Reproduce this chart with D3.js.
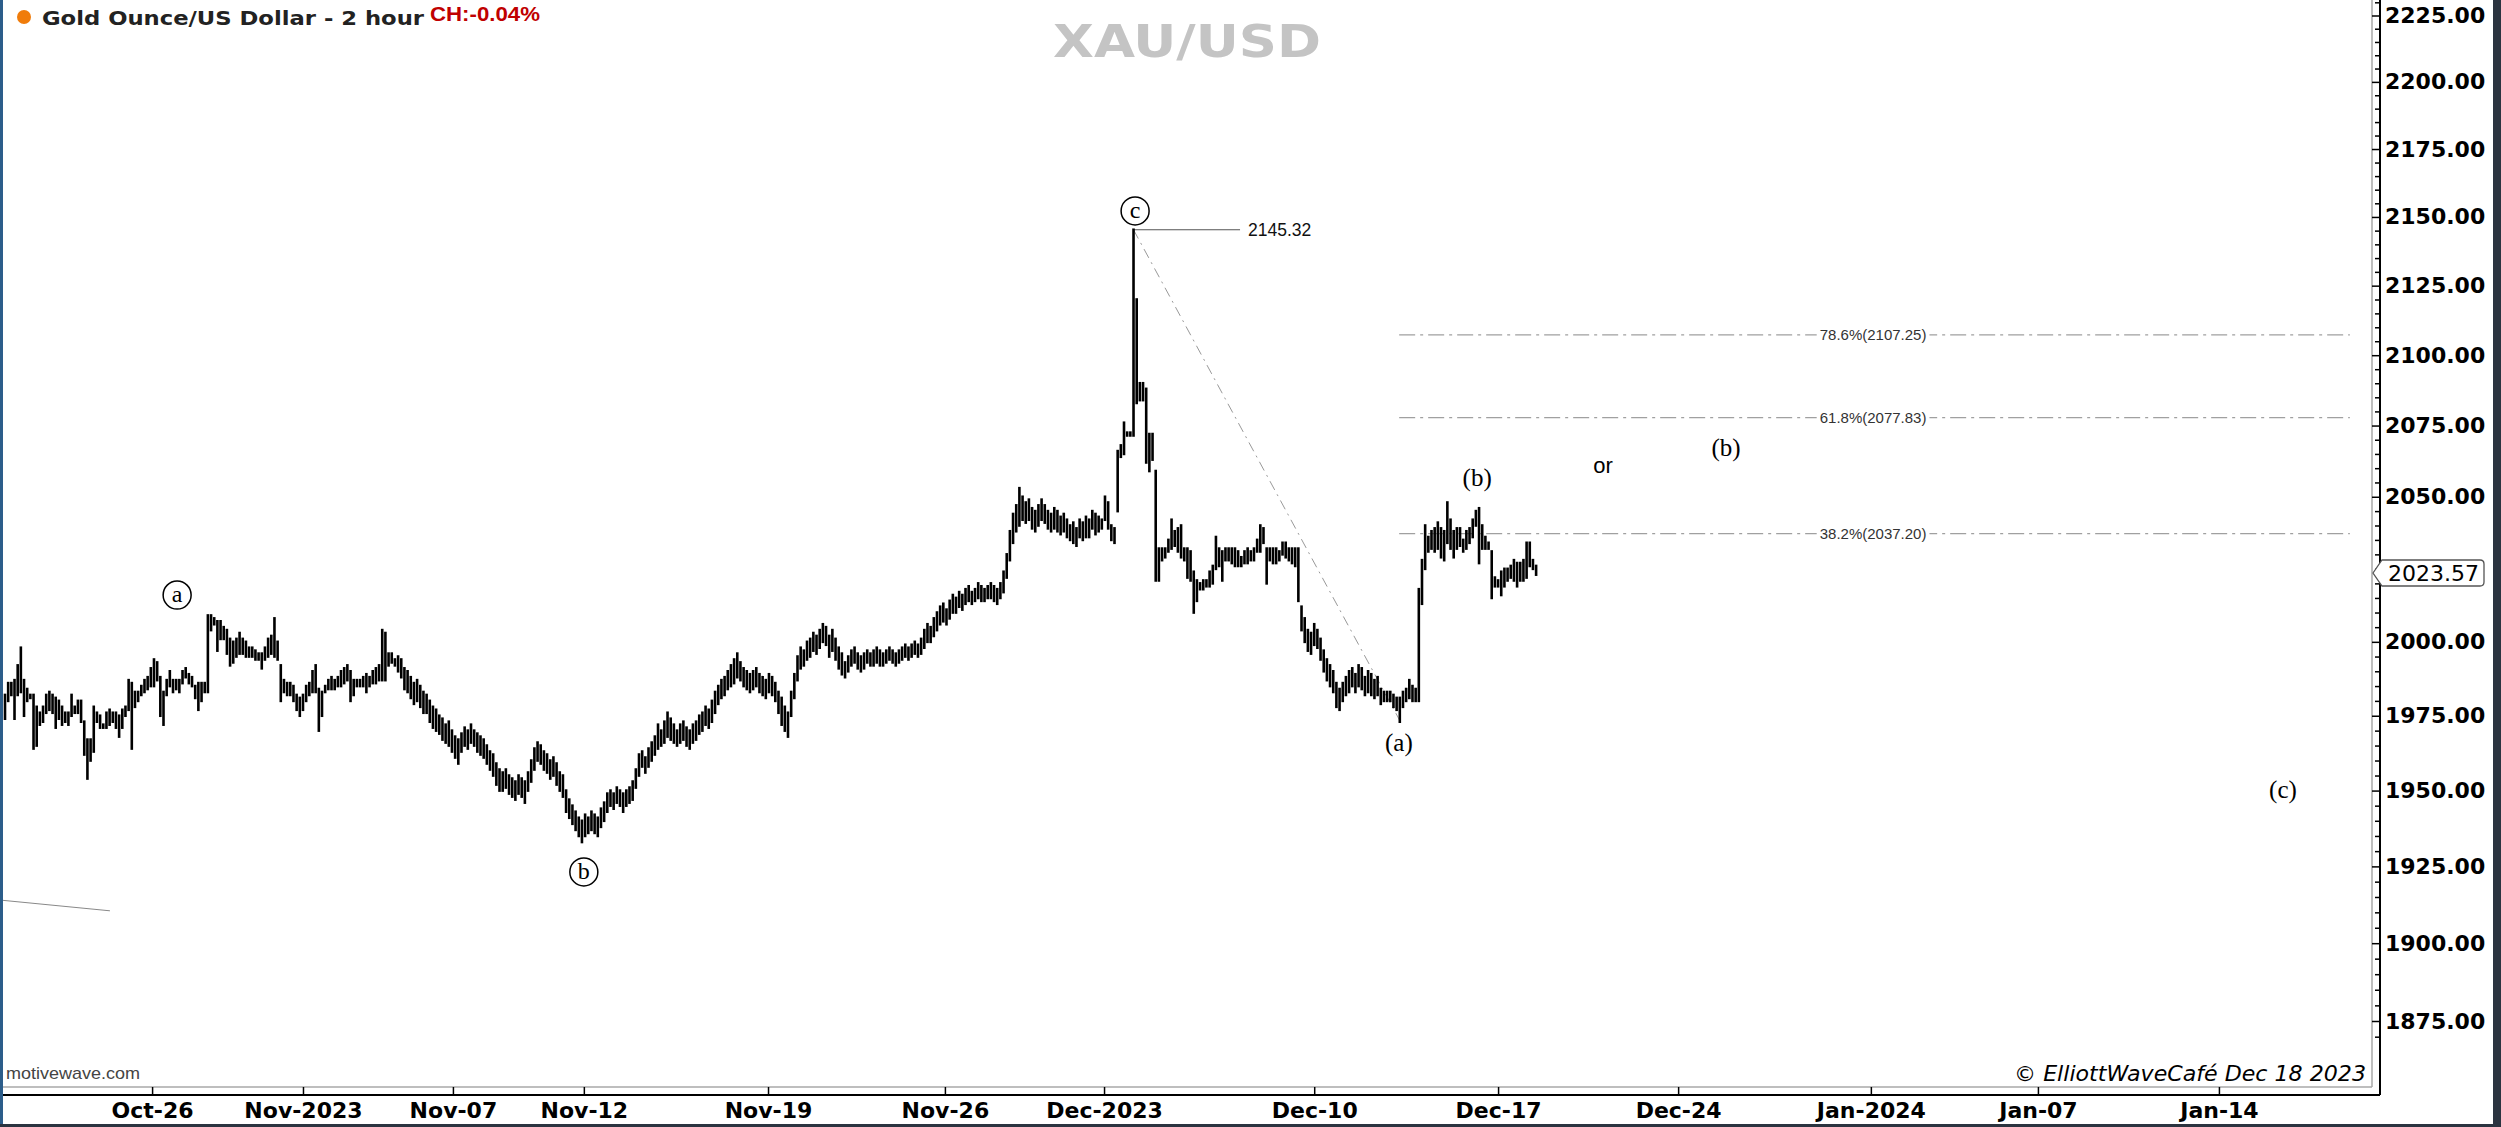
<!DOCTYPE html>
<html>
<head>
<meta charset="utf-8">
<script src="https://cdn.jsdelivr.net/npm/d3@7"></script>
<style>
  html, body { margin: 0; padding: 0; background: #fff; }
  svg { display: block; }
</style>
</head>
<body>
<svg id="chart" width="2501" height="1127"></svg>
<script>
/*global d3*/
(function () {

'use strict';

// 2 hour bars, one entry per bar (weekends are not on the axis)
var highs = [
  1982,1986,1986,1987,1992,1998,1987,1984,1982,1982,
  1978,1976,1978,1982,1983,1982,1981,1980,1978,1976,
  1976,1982,1978,1980,1980,1973,1967,1967,1978,1976,
  1975,1972,1976,1977,1976,1976,1975,1977,1978,1987,
  1986,1983,1983,1985,1987,1988,1991,1994,1993,1988,
  1983,1987,1990,1987,1987,1987,1990,1991,1989,1988,
  1985,1986,1986,1986,2009,2009,2008,2007,2007,2005,
  2004,2001,2000,2001,2003,2001,2000,1998,1998,1997,
  1996,1996,1998,2001,2002,2008,2000,1992,1987,1986,
  1986,1985,1982,1981,1982,1985,1986,1990,1992,1984,
  1983,1985,1987,1988,1987,1988,1990,1991,1992,1990,
  1987,1987,1987,1988,1989,1988,1990,1991,1992,2004,
  2003,1996,1996,1994,1995,1994,1991,1990,1988,1986,
  1987,1985,1983,1982,1980,1978,1977,1975,1974,1972,
  1973,1970,1968,1967,1969,1971,1970,1972,1970,1969,
  1968,1967,1965,1963,1962,1959,1957,1956,1957,1955,
  1954,1953,1955,1954,1953,1956,1960,1964,1966,1965,
  1963,1962,1960,1961,1959,1956,1955,1950,1947,1945,
  1943,1941,1940,1942,1941,1943,1942,1941,1944,1946,
  1949,1950,1949,1951,1950,1949,1950,1951,1953,1957,
  1962,1963,1961,1964,1966,1968,1972,1970,1973,1976,
  1974,1972,1970,1972,1973,1971,1970,1972,1973,1975,
  1976,1978,1977,1980,1983,1985,1987,1988,1990,1992,
  1994,1996,1993,1991,1990,1989,1990,1991,1989,1988,
  1987,1989,1988,1986,1983,1981,1978,1976,1983,1989,
  1995,1998,1997,2000,2001,2003,2002,2004,2006,2005,
  2002,2004,2001,1998,1996,1993,1995,1997,1998,1996,
  1995,1996,1997,1996,1997,1998,1997,1996,1997,1998,
  1997,1996,1997,1998,1999,1998,1999,2000,1999,2001,
  2004,2006,2005,2008,2010,2012,2013,2011,2014,2016,
  2015,2017,2016,2018,2019,2017,2018,2020,2019,2018,
  2019,2020,2019,2018,2020,2024,2030,2038,2044,2047,
  2053,2050,2048,2049,2046,2045,2047,2049,2047,2045,
  2044,2046,2045,2043,2044,2042,2040,2041,2039,2042,
  2041,2043,2042,2045,2044,2043,2042,2050,2048,2040,
  2039,2066,2068,2076,2072.5,2072.5,2145.32,2120,2090,2090,
  2088,2072,2072,2059,2032,2032,2032,2035,2042,2038,
  2039,2040,2032,2032,2031,2024,2021,2020,2021,2021,
  2024,2026,2036,2032,2031,2032,2032,2032,2032,2031,
  2029,2031,2032,2031,2032,2035,2040,2039,2032,2032,
  2032,2032,2031,2034,2034,2032,2032,2032,2032,2012,
  2008,2004,2003,2006,2004,2001,1997,1994,1992,1990,
  1986,1984,1986,1988,1990,1991,1989,1992,1991,1988,
  1990,1989,1987,1988,1984,1983,1983,1983,1982,1981,
  1981,1983,1984,1987,1985,1984,2018,2028,2040,2036,
  2038,2039,2041,2039,2038,2048,2042,2038,2039,2039,
  2035,2038,2039,2042,2045,2046,2040,2036,2034,2031,
  2022,2021,2024,2025,2025,2026,2028,2027,2027,2028,
  2034,2034,2028,2026
];

var lows = [
  1974,1980,1982,1974,1982,1983,1975,1980,1981,1964,
  1965,1972,1973,1976,1977,1976,1971,1974,1972,1973,
  1972,1975,1976,1976,1973,1962,1954,1960,1963,1973,
  1971,1971,1971,1972,1973,1971,1968,1971,1975,1977,
  1964,1978,1980,1982,1983,1984,1985,1985,1987,1975,
  1972,1982,1985,1983,1984,1983,1986,1988,1986,1985,
  1981,1977,1980,1983,1983,2004,2006,1997,2001,2001,
  1996,1992,1993,1995,1996,1996,1995,1995,1995,1994,
  1994,1991,1994,1995,1996,1995,1994,1980,1983,1982,
  1982,1980,1977,1975,1977,1980,1982,1983,1983,1970,
  1975,1983,1984,1984,1984,1985,1985,1986,1987,1980,
  1982,1985,1985,1985,1983,1985,1986,1986,1987,1987,
  1987,1992,1993,1992,1990,1988,1984,1983,1981,1979,
  1980,1978,1976,1976,1973,1971,1970,1969,1967,1966,
  1965,1963,1961,1959,1963,1965,1964,1966,1965,1963,
  1962,1961,1959,1957,1955,1952,1950,1950,1951,1949,
  1948,1947,1949,1948,1946,1950,1953,1957,1960,1959,
  1957,1956,1954,1955,1952,1950,1948,1943,1941,1939,
  1937,1935,1933,1935,1936,1937,1936,1935,1938,1940,
  1943,1945,1944,1946,1945,1943,1945,1946,1947,1951,
  1955,1958,1956,1958,1960,1962,1964,1965,1966,1968,
  1967,1966,1965,1966,1967,1965,1964,1966,1967,1969,
  1970,1972,1971,1973,1976,1979,1981,1982,1984,1985,
  1986,1988,1987,1985,1984,1983,1984,1985,1983,1982,
  1981,1983,1982,1980,1976,1972,1970,1968,1975,1981,
  1987,1991,1992,1994,1995,1997,1996,1998,2000,1999,
  1995,1997,1994,1991,1989,1988,1990,1992,1993,1991,
  1990,1991,1993,1992,1992,1993,1992,1992,1993,1994,
  1993,1992,1993,1994,1995,1994,1995,1996,1995,1996,
  1998,2000,2000,2002,2004,2006,2007,2006,2008,2010,
  2010,2012,2011,2013,2014,2013,2014,2015,2014,2014,
  2015,2015,2014,2013,2015,2017,2022,2028,2034,2038,
  2040,2042,2041,2042,2039,2038,2040,2042,2041,2039,
  2038,2039,2038,2037,2038,2036,2035,2034,2033,2036,
  2035,2036,2036,2039,2037,2038,2039,2042,2039,2035,
  2034,2045,2064,2065,2071.5,2071.5,2071.5,2083,2084,2084,
  2062,2059,2063,2021,2021,2028,2029,2031,2032,2033,
  2031,2029,2028,2022,2021,2010,2014,2018,2018,2019,
  2019,2020,2025,2026,2021,2028,2028,2027,2026,2026,
  2026,2027,2027,2028,2028,2031,2031,2034,2020,2028,
  2027,2027,2028,2030,2029,2028,2027,2026,2014,2004,
  2000,1997,1996,1999,1998,1994,1990,1987,1985,1983,
  1978,1977,1980,1982,1983,1985,1983,1985,1984,1982,
  1983,1982,1981,1982,1979,1980,1980,1980,1978,1977,
  1973,1978,1980,1981,1980,1980,1980,2013,2025,2031,
  2032,2031,2032,2029,2028,2034,2032,2029,2032,2033,
  2031,2032,2034,2036,2040,2027,2032,2032,2032,2015,
  2019,2019,2016,2019,2021,2022,2021,2019,2021,2021,
  2022,2026,2025,2023
];

// time axis: bar index where each date label sits
var tickLabels = ['Oct-26', 'Nov-2023', 'Nov-07', 'Nov-12', 'Nov-19', 'Nov-26', 'Dec-2023',
                  'Dec-10', 'Dec-17', 'Dec-24', 'Jan-2024', 'Jan-07', 'Jan-14'];
var tickIdx = [46.4, 94, 141.3, 182.6, 240.7, 296.5, 346.7, 413, 471, 527.8, 588.6, 641.3, 698.4];

// 2025 sits under the last price marker, so it gets no label
var priceTicks = [1875, 1900, 1925, 1950, 1975, 2000, 2050, 2075, 2100, 2125, 2150, 2175, 2200, 2225];

// fibonacci retracement of the Dec-04 high -> Dec-13 low
var fibNames = ['78.6%', '61.8%', '38.2%'];
var fibLevels = [2107.25, 2077.83, 2037.20];
var fibFrom = 439.8, fibTo = 739.7, fibLabelAt = 589.3;

var peakIdx = 356, peakPrice = 2145.32, peakLabelIdx = 389.6;
var lowIdx = 440, lowPrice = 1973.4;
var lastPrice = 2023.57;

var circledText = ['a', 'b', 'c'];
var circledIdx = [54.3, 182.6, 356.5];
var circledPrice = [2016, 1923.2, 2152.2];

var waveText = ['(a)', '(b)', 'or', '(b)', '(c)'];
var waveIdx = [439.7, 464.4, 504.1, 542.9, 718.6];
var wavePrice = [1965.9, 2056.9, 2060.8, 2067.1, 1950.5];

var trendIdx = [-1.6, 33.1];
var trendPrice = [1914, 1910.5];

var axisFont = "'DejaVu Sans', Verdana, sans-serif";

var plotRight = 2372, plotBottom = 1087, axisX = 2380, axisY = 1095;

var x = d3.scaleLinear().domain([0, 750]).range([5, 5 + 3.17 * 750]);
var y = d3.scaleLog().domain([2225, 1875]).range([15.5, 1021]);

var svg = d3.select('#chart');

svg.append('rect')
  .attr('width', 2501).attr('height', 1127)
  .attr('fill', '#fff');

var clip = svg.append('defs').append('clipPath').attr('id', 'plot-clip');
clip.append('rect').attr('x', 3).attr('y', 0)
  .attr('width', plotRight - 3).attr('height', plotBottom);

var plot = svg.append('g').attr('clip-path', 'url(#plot-clip)');

// faint trend line bottom left
plot.append('line')
  .attr('x1', x(trendIdx[0])).attr('y1', y(trendPrice[0]))
  .attr('x2', x(trendIdx[1])).attr('y2', y(trendPrice[1]))
  .attr('stroke', '#888').attr('stroke-width', 1);

// fib levels
fibLevels.forEach(function (lvl, k) {
  var yy = y(lvl);
  plot.append('line')
    .attr('x1', x(fibFrom)).attr('x2', x(fibTo))
    .attr('y1', yy).attr('y2', yy)
    .attr('stroke', '#a0a0a0').attr('stroke-width', 1.2)
    .attr('stroke-dasharray', '16,5,3,5');
  var label = plot.append('text')
    .attr('x', x(fibLabelAt)).attr('y', yy)
    .attr('text-anchor', 'middle')
    .attr('dominant-baseline', 'central')
    .attr('font-family', "'Liberation Sans Narrow', 'Liberation Sans', Arial, sans-serif")
    .attr('font-size', 15)
    .attr('fill', '#333')
    .text(fibNames[k] + '(' + lvl.toFixed(2) + ')');
  var bb = label.node().getBBox();
  plot.insert('rect', function () { return label.node(); })
    .attr('x', bb.x - 3).attr('y', bb.y)
    .attr('width', bb.width + 6).attr('height', bb.height)
    .attr('fill', '#fff');
});

// diagonal from the high to the low
plot.append('line')
  .attr('x1', x(peakIdx)).attr('y1', y(peakPrice))
  .attr('x2', x(lowIdx)).attr('y2', y(lowPrice))
  .attr('stroke', '#999').attr('stroke-width', 1)
  .attr('stroke-dasharray', '10,5,2,5');

// peak price label
plot.append('line')
  .attr('x1', x(peakIdx)).attr('x2', x(peakLabelIdx))
  .attr('y1', y(peakPrice)).attr('y2', y(peakPrice))
  .attr('stroke', '#555').attr('stroke-width', 1);
plot.append('text')
  .attr('x', x(peakLabelIdx) + 8).attr('y', y(peakPrice))
  .attr('dominant-baseline', 'central')
  .attr('font-family', "'Liberation Sans', Arial, sans-serif")
  .attr('font-size', 17.5)
  .attr('fill', '#111')
  .text(peakPrice.toFixed(2));

// price bars
plot.append('g').selectAll('line')
  .data(highs)
  .enter()
  .append('line')
  .attr('x1', function (d, i) { return x(i); })
  .attr('x2', function (d, i) { return x(i); })
  .attr('y1', function (d) { return y(d); })
  .attr('y2', function (d, i) { return y(lows[i]); })
  .attr('stroke', '#000')
  .attr('stroke-width', 2.6)
  .attr('stroke-linecap', 'square');

// wave labels
circledText.forEach(function (t, k) {
  var cx = x(circledIdx[k]), cy = y(circledPrice[k]);
  plot.append('circle')
    .attr('cx', cx).attr('cy', cy).attr('r', 14)
    .attr('fill', '#fff').attr('stroke', '#000').attr('stroke-width', 1.5);
  plot.append('text')
    .attr('x', cx).attr('y', cy - 1)
    .attr('text-anchor', 'middle')
    .attr('dominant-baseline', 'central')
    .attr('font-family', "'Liberation Serif', 'Times New Roman', serif")
    .attr('font-size', 24)
    .text(t);
});

plot.selectAll('text.wave')
  .data(waveText)
  .enter()
  .append('text')
  .attr('class', 'wave')
  .attr('x', function (d, i) { return x(waveIdx[i]); })
  .attr('y', function (d, i) { return y(wavePrice[i]); })
  .attr('text-anchor', 'middle')
  .attr('dominant-baseline', 'central')
  .attr('font-family', function (d) {
    return d === 'or' ? "'Liberation Sans', Arial, sans-serif" : "'Liberation Serif', 'Times New Roman', serif";
  })
  .attr('font-size', function (d) { return d === 'or' ? 22 : 25; })
  .attr('fill', '#000')
  .text(function (d) { return d; });

// frame lines
svg.append('line')
  .attr('x1', plotRight).attr('x2', plotRight).attr('y1', 0).attr('y2', plotBottom)
  .attr('stroke', '#a8a8a8').attr('stroke-width', 1.5);
svg.append('line')
  .attr('x1', 0).attr('x2', plotRight).attr('y1', plotBottom).attr('y2', plotBottom)
  .attr('stroke', '#a8a8a8').attr('stroke-width', 1.5);
svg.append('line')
  .attr('x1', axisX).attr('x2', axisX).attr('y1', 0).attr('y2', axisY)
  .attr('stroke', '#000').attr('stroke-width', 2);
svg.append('line')
  .attr('x1', 0).attr('x2', axisX).attr('y1', axisY).attr('y2', axisY)
  .attr('stroke', '#000').attr('stroke-width', 2);

// price axis
var minorTicks = d3.range(1870, 2231, 5).filter(function (v) { return priceTicks.indexOf(v) < 0; });
var yMinor = svg.append('g')
  .attr('transform', 'translate(' + axisX + ',0)')
  .call(d3.axisRight(y).tickValues(minorTicks).tickSizeInner(-5).tickSizeOuter(0).tickFormat(''));
var yAxis = svg.append('g')
  .attr('transform', 'translate(' + axisX + ',0)')
  .call(d3.axisRight(y).tickValues(priceTicks).tickSizeInner(-8).tickSizeOuter(0)
    .tickPadding(5).tickFormat(d3.format('.2f')));
[yMinor, yAxis].forEach(function (g) {
  g.select('.domain').remove();
  g.selectAll('.tick line').attr('stroke', '#000').attr('stroke-width', 1.5);
});
yAxis.selectAll('.tick text')
  .attr('font-family', axisFont)
  .attr('font-weight', 'bold')
  .attr('font-size', 22)
  .attr('fill', '#000');

// time axis
var xAxis = svg.append('g')
  .attr('transform', 'translate(0,' + axisY + ')')
  .call(d3.axisBottom(x).tickValues(tickIdx).tickSizeInner(-8).tickSizeOuter(0)
    .tickPadding(7).tickFormat(function (d, i) { return tickLabels[i]; }));
xAxis.select('.domain').remove();
xAxis.selectAll('.tick line').attr('stroke', '#000').attr('stroke-width', 1.5);
xAxis.selectAll('.tick text')
  .attr('font-family', axisFont)
  .attr('font-weight', 'bold')
  .attr('font-size', 22)
  .attr('fill', '#000');

// last price marker
var ly = y(lastPrice);
svg.append('path')
  .attr('d', 'M2373,' + ly + ' L2382,' + (ly - 13) + ' H2480 Q2484,' + (ly - 13) + ' 2484,' + (ly - 9) +
    ' V' + (ly + 9) + ' Q2484,' + (ly + 13) + ' 2480,' + (ly + 13) + ' H2382 Z')
  .attr('fill', '#fff').attr('stroke', '#555').attr('stroke-width', 1.3);
svg.append('text')
  .attr('x', 2388).attr('y', ly)
  .attr('dominant-baseline', 'central')
  .attr('font-family', axisFont)
  .attr('font-size', 22)
  .attr('fill', '#000')
  .text(lastPrice.toFixed(2));

// titles
svg.append('circle').attr('cx', 24).attr('cy', 17).attr('r', 7).attr('fill', '#f07c0a');
svg.append('text')
  .attr('x', 42).attr('y', 25)
  .attr('font-family', axisFont).attr('font-weight', 'bold').attr('font-size', 20)
  .attr('fill', '#222')
  .attr('textLength', 382).attr('lengthAdjust', 'spacingAndGlyphs')
  .text('Gold Ounce/US Dollar - 2 hour');
svg.append('text')
  .attr('x', 430).attr('y', 21)
  .attr('font-family', "'Liberation Sans Narrow', 'Liberation Sans', Arial, sans-serif")
  .attr('font-weight', 'bold').attr('font-size', 21)
  .attr('fill', '#c00000')
  .attr('textLength', 110).attr('lengthAdjust', 'spacingAndGlyphs')
  .text('CH:-0.04%');
svg.append('text')
  .attr('x', 1187).attr('y', 57)
  .attr('text-anchor', 'middle')
  .attr('font-family', axisFont).attr('font-weight', 'bold').attr('font-size', 45)
  .attr('fill', '#c4c4c4')
  .attr('textLength', 268).attr('lengthAdjust', 'spacingAndGlyphs')
  .text('XAU/USD');

svg.append('text')
  .attr('x', 6).attr('y', 1079)
  .attr('font-family', "'Liberation Sans Narrow', 'Liberation Sans', Arial, sans-serif")
  .attr('font-size', 17)
  .attr('fill', '#444')
  .attr('textLength', 134).attr('lengthAdjust', 'spacingAndGlyphs')
  .text('motivewave.com');
svg.append('text')
  .attr('x', 2366).attr('y', 1081)
  .attr('text-anchor', 'end')
  .attr('font-family', axisFont).attr('font-style', 'italic').attr('font-size', 21)
  .attr('fill', '#000')
  .attr('textLength', 352).attr('lengthAdjust', 'spacingAndGlyphs')
  .text('\u00a9 ElliottWaveCaf\u00e9 Dec 18 2023');

// outer border
svg.append('rect').attr('x', 0).attr('y', 0).attr('width', 3).attr('height', 1127).attr('fill', '#2c5d8a');
svg.append('rect').attr('x', 2493).attr('y', 0).attr('width', 8).attr('height', 1127).attr('fill', '#2b3440');
svg.append('rect').attr('x', 0).attr('y', 1124).attr('width', 2501).attr('height', 3).attr('fill', '#2b3440');

})();
</script>
</body>
</html>
